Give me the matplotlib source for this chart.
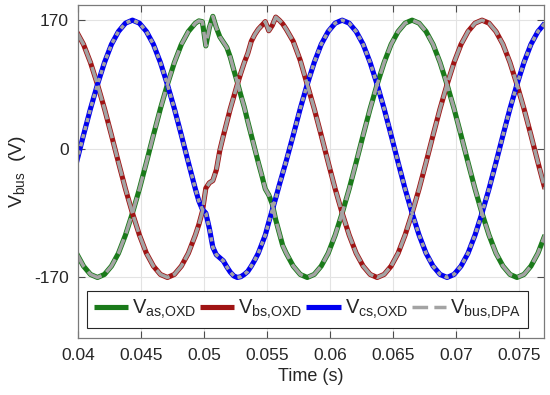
import numpy as np
import matplotlib
matplotlib.use('Agg')
from matplotlib import pyplot as plt

plt.rcParams['font.family'] = ['Liberation Sans', 'DejaVu Sans']
plt.rcParams['mathtext.fontset'] = 'custom'
plt.rcParams['mathtext.rm'] = 'Liberation Sans'
plt.rcParams['mathtext.it'] = 'Liberation Sans'

# sample grid: electrical angle of phase c (deg, 60 Hz), finer steps around the fault
deg = np.r_[np.arange(-96, 109, 12), np.arange(114, 265, 6), np.arange(276, 709, 12)]
t = 0.0443 + deg / 21600.0

# phase voltages (V)
va = [-138, -155, -166, -170, -166, -155, -138, -114, -85, -53, -18, 18, 53, 85, 114, 138, 155, 166,
      169, 168, 136, 160, 175, 160, 148, 141, 134, 121, 104, 88, 71, 55, 36, 18, 0, -18, -35, -53,
      -61, -73, -94, -111, -128, -138,
      -155, -166, -170, -166, -155, -138, -114, -85, -53, -18, 18, 53, 85, 114, 138, 155, 166, 170,
      166, 155, 138, 114, 85, 53, 18, -18, -53, -85, -114, -138, -155, -166, -170, -166, -155, -138, -114]
vb = [155, 138, 114, 85, 53, 18, -18, -53, -85, -114, -138, -155, -166, -170, -166, -155, -138, -114,
      -100, -83, -52, -45, -42, -28, -2, 17, 35, 53, 69, 85, 100, 114, 126, 142, 151, 158, 163, 168,
      156, 163, 174, 170, 165, 158,
      142, 117, 85, 53, 18, -18, -53, -85, -114, -138, -155, -166, -170, -166, -155, -138, -114, -85,
      -53, -18, 18, 53, 85, 114, 138, 155, 166, 170, 166, 155, 138, 114, 85, 53, 18, -18, -53]
vc = [-18, 18, 53, 85, 114, 138, 155, 166, 170, 166, 155, 138, 114, 85, 53, 18, -18, -53,
      -69, -80, -85, -105, -130, -140, -144, -148, -156, -163, -168, -170, -169, -166, -162, -155,
      -147, -138, -126, -114, -97, -81, -65, -48, -32, -16,
      18, 53, 85, 114, 138, 155, 166, 170, 166, 155, 138, 114, 85, 53, 18, -18, -53, -85, -114, -138,
      -155, -166, -170, -166, -155, -138, -114, -85, -53, -18, 18, 53, 85, 114, 138, 155, 166]
# DPA bus voltage follows the same waveforms
vbus_a = va
vbus_b = vb
vbus_c = vc

xticks = [0.04, 0.045, 0.05, 0.055, 0.06, 0.065, 0.07, 0.075]
xticklabels = ['0.04', '0.045', '0.05', '0.055', '0.06', '0.065', '0.07', '0.075']
yticks = [-170, 0, 170]

green = '#1a7a1a'
red = '#a01414'
blue = '#0000f0'
gray = '#a3a3a3'

fig = plt.figure(figsize=(5.5, 3.95), dpi=100)
ax = fig.add_axes([0.1424, 0.1443, 0.8466, 0.843])

lw = 3.7
ax.plot(t, va, color=green, lw=lw, label=r'$V_{\mathrm{as{,}OXD}}$', solid_capstyle='butt')
ax.plot(t, vb, color=red, lw=lw, label=r'$V_{\mathrm{bs{,}OXD}}$', solid_capstyle='butt')
ax.plot(t, vc, color=blue, lw=lw, label=r'$V_{\mathrm{cs{,}OXD}}$', solid_capstyle='butt')

glw = 2.5
ax.plot(t, vbus_a, color=gray, lw=glw, dashes=(4.5, 1.8), label=r'$V_{\mathrm{bus{,}DPA}}$')
ax.plot(t, vbus_b, color=gray, lw=glw, dashes=(4.5, 1.1))
ax.plot(t, vbus_c, color=gray, lw=glw, dashes=(1.2, 1.2))

ax.set_xlim(0.04, 0.077)
ax.set_ylim(-250, 190)
ax.set_xticks(xticks)
ax.set_xticklabels(xticklabels)
ax.set_yticks(yticks)
ax.set_yticklabels([str(v) for v in yticks])
ax.grid(True, color='#e3e3e3', lw=0.8)
ax.set_axisbelow(True)
ax.tick_params(direction='in', top=True, right=True, length=5, width=0.8,
               colors='#4d4d4d', labelcolor='#262626', labelsize=12.5, pad=7)
for s in ax.spines.values():
    s.set_color('#7a7a7a')
    s.set_linewidth(0.9)

ax.set_xlabel('Time (s)', fontsize=13, color='#262626', labelpad=4)
ax.set_ylabel(r'$V_{\mathrm{bus}}$  (V)', fontsize=14, color='#262626', labelpad=4)

leg = ax.legend(loc='lower center', bbox_to_anchor=(0.492, 0.03), ncol=4, fontsize=14.5,
                frameon=True, fancybox=False, framealpha=1, edgecolor='#262626',
                handlelength=1.7, handletextpad=0.2, columnspacing=0.2,
                borderpad=0.35, borderaxespad=0)
leg.get_frame().set_linewidth(0.8)
for txt in leg.get_texts():
    txt.set_color('#262626')

fig.savefig('out.png', dpi=100)
